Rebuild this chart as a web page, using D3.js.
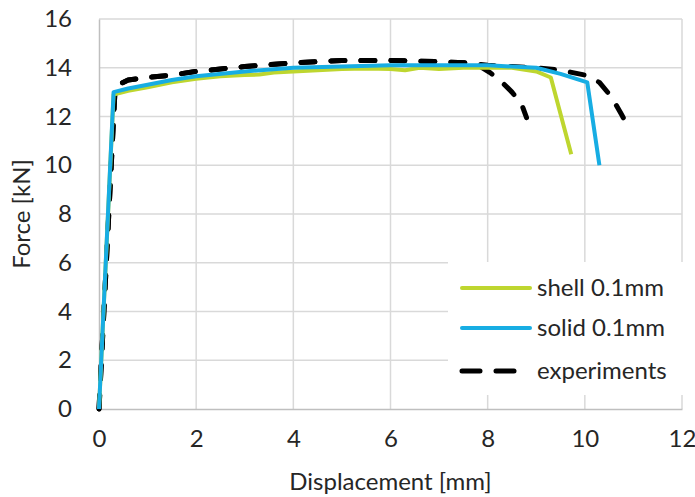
<!DOCTYPE html>
<html>
<head>
<meta charset="utf-8">
<script src="https://d3js.org/d3.v7.min.js"></script>
<style>
  body { margin: 0; background: #fff; }
  text { font-family: Lato, "Open Sans", sans-serif; fill: #262626; }
</style>
</head>
<body>
<svg width="695" height="497"></svg>
<script>
// ---- data ----
var xTicks = [0, 2, 4, 6, 8, 10, 12];
var yTicks = [0, 2, 4, 6, 8, 10, 12, 14, 16];

var shellX = [0, 0.3, 0.6, 1.0, 1.5, 2.0, 2.5, 3.0, 3.3, 3.6, 4.0, 4.5, 5.0, 5.5, 6.0, 6.3, 6.6, 7.0, 7.5, 8.0, 8.5, 9.0, 9.3, 9.72];
var shellY = [0, 12.9, 13.05, 13.2, 13.4, 13.55, 13.65, 13.7, 13.72, 13.8, 13.85, 13.9, 13.95, 13.97, 13.95, 13.9, 14.0, 13.95, 14.0, 14.0, 14.0, 13.85, 13.6, 10.45];

var solidX = [0, 0.3, 0.6, 1.0, 1.5, 2.0, 3.0, 4.0, 5.0, 6.0, 7.0, 8.0, 8.5, 9.0, 9.5, 10.05, 10.3];
var solidY = [0, 13.0, 13.15, 13.3, 13.5, 13.65, 13.85, 14.0, 14.05, 14.1, 14.1, 14.1, 14.05, 14.0, 13.75, 13.4, 10.0];

var exp1X = [0, 0.33, 0.45, 0.6, 1.0, 1.5, 2.0, 3.0, 4.0, 5.0, 6.0, 7.0, 7.6, 7.85, 8.05, 8.3, 8.5, 8.7, 8.8];
var exp1Y = [0, 13.1, 13.35, 13.5, 13.6, 13.7, 13.85, 14.05, 14.2, 14.3, 14.3, 14.25, 14.2, 14.05, 13.8, 13.4, 13.0, 12.5, 11.95];

var exp2X = [0, 0.33, 0.45, 0.6, 1.0, 1.5, 2.0, 3.0, 4.0, 5.0, 6.0, 7.0, 7.6, 8.0, 8.5, 9.0, 9.5, 10.0, 10.3, 10.55, 10.75, 10.9];
var exp2Y = [0, 13.1, 13.35, 13.5, 13.6, 13.7, 13.85, 14.05, 14.2, 14.3, 14.3, 14.25, 14.2, 14.1, 14.05, 14.0, 13.9, 13.7, 13.4, 12.8, 12.1, 11.55];

var legendNames = ["shell 0.1mm", "solid 0.1mm", "experiments"];

var green = "#bed62f", blue = "#17ade3";
var fs = 24;

var svg = d3.select("svg");
svg.append("rect").attr("width", 695).attr("height", 497).attr("fill", "#fff");

var x = d3.scaleLinear().domain([0, 12]).range([99, 682]);
var y = d3.scaleLinear().domain([0, 16]).range([409, 19]);

// gridlines
svg.append("g").selectAll("line.h")
  .data(yTicks.slice(1)).enter().append("line")
  .attr("x1", x(0)).attr("x2", x(12))
  .attr("y1", function(d) { return y(d); }).attr("y2", function(d) { return y(d); })
  .attr("stroke", "#d9d9d9").attr("stroke-width", 1.5);
svg.append("g").selectAll("line.v")
  .data(xTicks.slice(1)).enter().append("line")
  .attr("y1", y(0)).attr("y2", y(16))
  .attr("x1", function(d) { return x(d); }).attr("x2", function(d) { return x(d); })
  .attr("stroke", "#d9d9d9").attr("stroke-width", 1.5);

// axes
var xAxis = d3.axisBottom(x).tickValues(xTicks).tickSize(0).tickPadding(21);
var gx = svg.append("g").attr("transform", "translate(0," + y(0) + ")").call(xAxis);
var yAxis = d3.axisLeft(y).tickValues(yTicks).tickSize(0).tickPadding(27);
var gy = svg.append("g").attr("transform", "translate(" + x(0) + ",0)").call(yAxis);
[gx, gy].forEach(function(g) {
  g.select(".domain").attr("stroke", "#bfbfbf").attr("stroke-width", 1.5);
  g.selectAll("text").attr("font-size", fs).attr("fill", "#262626")
    .style("font-family", "Lato, 'Open Sans', sans-serif");
});

svg.append("text").attr("x", (x(0) + x(12)) / 2).attr("y", 490)
  .attr("text-anchor", "middle").attr("font-size", fs).text("Displacement [mm]");
svg.append("text").attr("transform", "translate(30," + ((y(0) + y(16)) / 2) + ") rotate(-90)")
  .attr("text-anchor", "middle").attr("font-size", fs).text("Force [kN]");

// series (experiments underneath, simulations on top)
function pts(xs, ys) { return xs.map(function(v, i) { return [v, ys[i]]; }); }
var line = d3.line().x(function(d) { return x(d[0]); }).y(function(d) { return y(d[1]); });

[pts(exp1X, exp1Y), pts(exp2X, exp2Y)].forEach(function(p) {
  svg.append("path").attr("d", line(p))
    .attr("fill", "none").attr("stroke", "#000").attr("stroke-width", 5)
    .attr("stroke-dasharray", "14,16").attr("stroke-linecap", "round")
    .attr("stroke-linejoin", "round");
});
svg.append("path").attr("d", line(pts(shellX, shellY)))
  .attr("fill", "none").attr("stroke", green).attr("stroke-width", 4).attr("stroke-linejoin", "round");
svg.append("path").attr("d", line(pts(solidX, solidY)))
  .attr("fill", "none").attr("stroke", blue).attr("stroke-width", 4).attr("stroke-linejoin", "round");

// legend
var lg = svg.append("g");
lg.append("rect").attr("x", 448).attr("y", 262).attr("width", 240).attr("height", 133).attr("fill", "#fff");
var styles = [
  { c: green, w: 4, dash: null },
  { c: blue, w: 4, dash: null },
  { c: "#000", w: 5, dash: "18,16" }
];
var ly = [288, 328, 371];
legendNames.forEach(function(name, i) {
  lg.append("line").attr("x1", 462).attr("x2", 530).attr("y1", ly[i]).attr("y2", ly[i])
    .attr("stroke", styles[i].c).attr("stroke-width", styles[i].w)
    .attr("stroke-dasharray", styles[i].dash).attr("stroke-linecap", "round");
  lg.append("text").attr("x", 537).attr("y", ly[i]).attr("dy", "0.35em")
    .attr("font-size", fs).text(name);
});
</script>
</body>
</html>
